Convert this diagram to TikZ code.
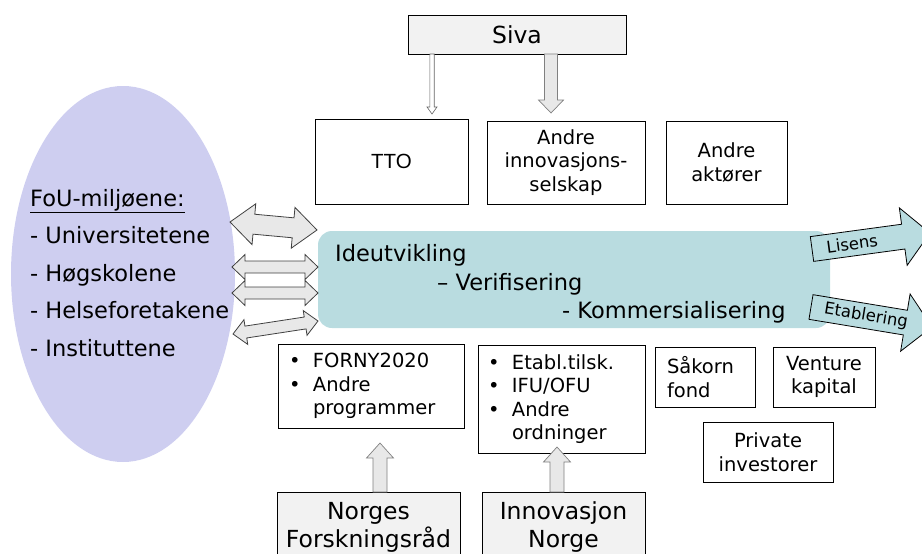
\documentclass[tikz,border=0pt]{standalone}
\usepackage{fontspec}
\setmainfont{DejaVu Sans}
\newfontfamily\arialfont{Liberation Sans}
\usetikzlibrary{calc,shapes.geometric,positioning}

\definecolor{fouviolet}{RGB}{206,206,240}
\definecolor{prosessteal}{RGB}{185,220,224}
\definecolor{aktorgray}{RGB}{242,242,242}
\definecolor{pilgray}{RGB}{232,232,232}

\newcommand{\storfont}{\fontsize{22.5}{37.5}\selectfont}
\newcommand{\boksfont}{\fontsize{19.5}{23.5}\selectfont}
\newcommand{\norgefont}{\fontsize{23.5}{28}\selectfont}
\newcommand{\pilfont}{\fontsize{16.5}{18}\selectfont}
\newcommand{\punkt}{\makebox[24pt][l]{\textbullet}}

% block arrow: [style]{from}{to}{shaft half width}{head half width}{head length}
\newcommand{\enkelpil}[6][]{%
  \coordinate (pilC) at ($(#3)!#6!(#2)$);
  \draw[#1] ($(#2)!#4!90:(#3)$) -- ($(pilC)!#4!90:(#3)$) -- ($(pilC)!#5!90:(#3)$) -- (#3)
    -- ($(pilC)!#5!-90:(#3)$) -- ($(pilC)!#4!-90:(#3)$) -- ($(#2)!#4!-90:(#3)$) -- cycle;
}
\newcommand{\dobbelpil}[6][]{%
  \coordinate (pilC) at ($(#3)!#6!(#2)$);
  \coordinate (pilD) at ($(#2)!#6!(#3)$);
  \draw[#1] (#2) -- ($(pilD)!#5!90:(#3)$) -- ($(pilD)!#4!90:(#3)$) -- ($(pilC)!#4!90:(#3)$)
    -- ($(pilC)!#5!90:(#3)$) -- (#3) -- ($(pilC)!#5!-90:(#3)$) -- ($(pilC)!#4!-90:(#3)$)
    -- ($(pilD)!#4!-90:(#3)$) -- ($(pilD)!#5!-90:(#3)$) -- cycle;
}

\begin{document}
\begin{tikzpicture}[x=1pt, y=-1pt,
        aktor/.style={rectangle, draw=black, line width=0.8pt, fill=white, inner sep=0pt,
        align=center, font=\boksfont},
        virkemiddel/.style={aktor, fill=aktorgray, font=\norgefont},
        liste/.style={aktor, align=left, inner ysep=0pt},
        grapil/.style={fill=pilgray, draw=black!75, line width=0.8pt},
        lysgrapil/.style={fill=pilgray, draw=black!50, line width=0.7pt},
        utpil/.style={fill=prosessteal, draw=black, line width=0.8pt}]
    \useasboundingbox (0,0) rectangle (922,554);

    % FoU-miljoene
    \node [ellipse, fill=fouviolet, minimum width=224pt, minimum height=376pt] (fou) at (123,274) {};
    \node [anchor=west, align=left, inner sep=0pt, font=\storfont] (foutekst) at (30,273)
    {
        \underline{FoU-miljøene:}\\ - Universitetene\\ - Høgskolene\\ - Helseforetakene\\ - Instituttene
    };

    % aktorer
    \node [virkemiddel, minimum width=218pt, minimum height=39pt] (siva) at (517,34.5) {Siva};
    \node [aktor, minimum width=153pt, minimum height=85pt, font=\arialfont\fontsize{20.5}{24}\selectfont] (tto) at (391.5,161.5) {TTO};
    \node [aktor, minimum width=158pt, minimum height=83pt] (innov) at (566,162.5) {Andre\\ innovasjons-\\ selskap};
    \node [aktor, minimum width=121pt, minimum height=83pt] (aktorer) at (726.5,162.5) {Andre\\ aktører};

    % prosess
    \node [rectangle, rounded corners=14pt, fill=prosessteal, minimum width=512pt, minimum height=97pt] (prosess) at (574,279.5) {};
    \node [anchor=west, inner sep=0pt, font=\storfont] (ide) at (335,255) {Ideutvikling};
    \node [anchor=west, inner sep=0pt, font=\storfont] (verif) at (437,284) {– Verifisering};
    \node [anchor=west, inner sep=0pt, font=\storfont] (komm) at (562,312) {- Kommersialisering};

    % programmer og ordninger
    \node [liste, inner xsep=11pt, text width=164pt, minimum height=84pt] (forny) at (371,386)
    {\punkt FORNY2020\\ \punkt Andre\\ \hspace*{24pt}programmer};
    \node [liste, inner xsep=10pt, text width=147pt, minimum height=108pt] (etabl) at (561.5,399)
    {\punkt Etabl.tilsk.\\ \punkt IFU/OFU\\ \punkt Andre\\ \hspace*{24pt}ordninger};
    \node [virkemiddel, minimum width=183pt, minimum height=70pt] (forskrad) at (368.5,527) {Norges\\ Forskningsråd};
    \node [virkemiddel, minimum width=163pt, minimum height=70pt] (innovnorge) at (563.5,527) {Innovasjon\\ Norge};

    % kapital
    \node [aktor, align=left, inner xsep=12pt, text width=76pt, minimum height=60pt] (sakorn) at (705,377) {Såkorn\\ fond};
    \node [aktor, minimum width=102pt, minimum height=60pt] (venture) at (824,377) {Venture\\ kapital};
    \node [aktor, minimum width=130pt, minimum height=60pt] (private) at (768,452) {Private\\ investorer};

    % piler fra Siva
    \coordinate (siva1) at (432,54);   \coordinate (tto1) at (432,114);
    \coordinate (siva2) at (551,54);   \coordinate (innov1) at (551,113);
    \enkelpil[fill=white, draw=black!60, line width=0.6pt]{siva1}{tto1}{2.2pt}{5pt}{7pt}
    \enkelpil[lysgrapil]{siva2}{innov1}{6.5pt}{12.5pt}{13pt}

    % piler opp
    \coordinate (forskrad1) at (380,492);   \coordinate (forny1) at (380,443);
    \coordinate (innovnorge1) at (557,492); \coordinate (etabl1) at (557,447);
    \enkelpil[lysgrapil]{forskrad1}{forny1}{7pt}{13.5pt}{15pt}
    \enkelpil[lysgrapil]{innovnorge1}{etabl1}{7pt}{13.5pt}{15pt}

    % FoU <-> prosess
    \coordinate (fou1) at (230,222);  \coordinate (pros1) at (317,230);
    \coordinate (fou2) at (232,267);  \coordinate (pros2) at (318,267);
    \coordinate (fou3) at (232,293);  \coordinate (pros3) at (318,293);
    \coordinate (fou4) at (233,334);  \coordinate (pros4) at (318,321);
    \dobbelpil[grapil]{fou1}{pros1}{10pt}{20.5pt}{24pt}
    \dobbelpil[grapil]{fou2}{pros2}{6pt}{12.5pt}{13pt}
    \dobbelpil[grapil]{fou3}{pros3}{6pt}{12.5pt}{13pt}
    \dobbelpil[grapil]{fou4}{pros4}{6pt}{12.5pt}{13pt}

    % ut av prosessen
    \coordinate (lisens0) at (812,249);     \coordinate (lisens1) at (930,233);
    \coordinate (etablering0) at (811,307); \coordinate (etablering1) at (932,327);
    \enkelpil[utpil]{lisens0}{lisens1}{12.5pt}{29pt}{27pt}
    \enkelpil[utpil]{etablering0}{etablering1}{12.5pt}{29pt}{27pt}
    \path (lisens0) -- (lisens1) node [pos=0.34, sloped, font=\pilfont] {Lisens};
    \path (etablering0) -- (etablering1) node [pos=0.455, sloped, font=\pilfont] {Etablering};
\end{tikzpicture}
\end{document}
